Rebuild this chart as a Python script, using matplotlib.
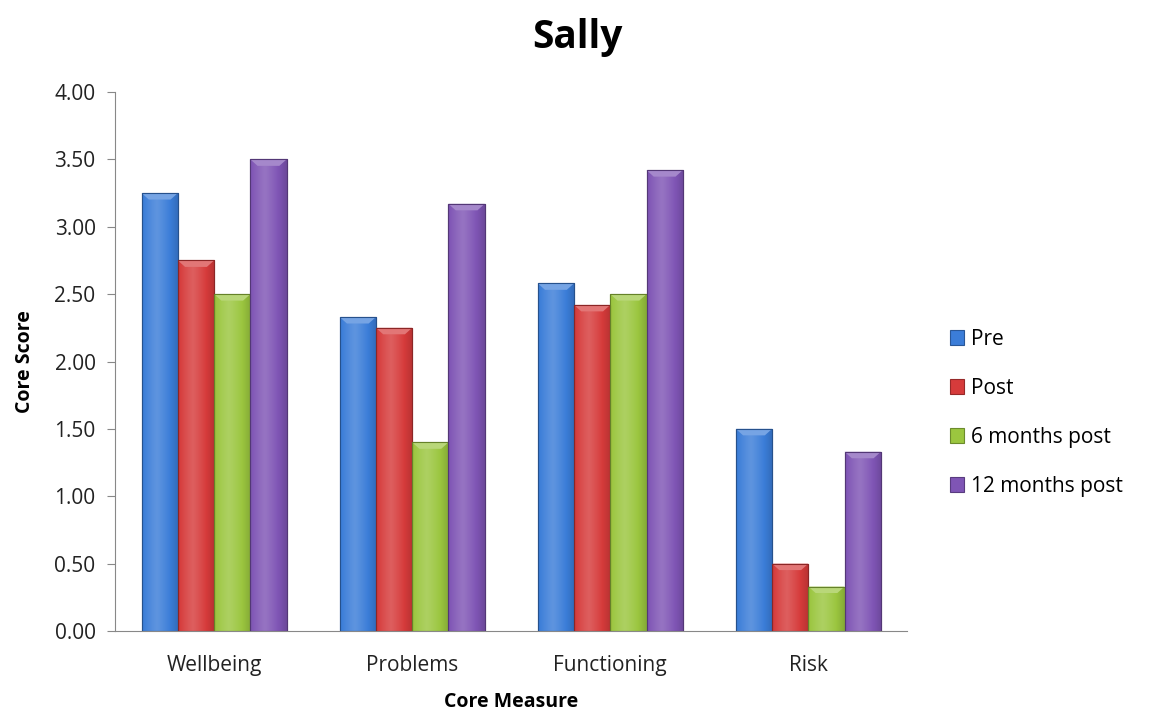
import numpy as np
import matplotlib
matplotlib.use("Agg")
import matplotlib.pyplot as plt
from matplotlib.patches import Polygon
from matplotlib.colors import to_rgb

# data
measures = ["Wellbeing", "Problems", "Functioning", "Risk"]
series = ["Pre", "Post", "6 months post", "12 months post"]
pre = [3.25, 2.33, 2.58, 1.50]
post = [2.75, 2.25, 2.42, 0.50]
six_months = [2.50, 1.40, 2.50, 0.33]
twelve_months = [3.50, 3.17, 3.42, 1.33]
colors = ["#3b7dd8", "#d63b3b", "#9bc63f", "#7f55b5"]

plt.rcParams['font.family'] = ['Open Sans', 'DejaVu Sans']

fig = plt.figure(figsize=(11.54, 7.2), dpi=100)
ax = fig.add_axes([0.0997, 0.1236, 0.6866, 0.7486])

x = np.arange(len(measures))
width = 0.183
values = [pre, post, six_months, twelve_months]


def shade(c, f):
    r, g, b = to_rgb(c)
    if f > 0:
        return (r + (1 - r) * f, g + (1 - g) * f, b + (1 - b) * f)
    return (r * (1 + f), g * (1 + f), b * (1 + f))


for i, (vals, col) in enumerate(zip(values, colors)):
    bars = ax.bar(x + (i - 1.5) * width, vals, width, color=col,
                  edgecolor=shade(col, -0.3), linewidth=0.8, label=series[i], zorder=2)
    # bevel look: horizontal gradient + lighter top cap
    grad = np.linspace(0, 1, 64)
    prof = 0.18 - 0.6 * np.abs(grad - 0.4) ** 1.2
    img = np.array([[shade(col, p) for p in prof]])
    for b in bars:
        x0, w, h = b.get_x(), b.get_width(), b.get_height()
        im = ax.imshow(img, extent=[x0, x0 + w, 0, h], aspect='auto', zorder=2.5,
                       interpolation='bicubic')
        im.set_clip_path(b)
        d = 0.012 * 4
        cap = Polygon([[x0, h], [x0 + w, h], [x0 + w - w * 0.2, h - d],
                       [x0 + w * 0.2, h - d]], closed=True,
                      facecolor=shade(col, 0.3), edgecolor='none', zorder=3)
        ax.add_patch(cap)
        ax.add_patch(plt.Rectangle((x0, 0), w, h, fill=False,
                                   edgecolor=shade(col, -0.35), linewidth=0.8, zorder=3.5))

ax.set_xlim(-0.5, len(measures) - 0.5)
ax.set_ylim(0, 4)
ax.set_yticks(np.arange(0, 4.01, 0.5))
ax.set_yticklabels(["%.2f" % v for v in np.arange(0, 4.01, 0.5)], fontsize=15, color='#222222')
ax.set_xticks(x)
ax.set_xticklabels(measures, fontsize=15, color='#222222')
ax.tick_params(axis='x', length=0, pad=17)
ax.tick_params(axis='y', length=6, color='#888888', pad=8)
for s in ['top', 'right']:
    ax.spines[s].set_visible(False)
ax.spines['left'].set_color('#888888')
ax.spines['bottom'].set_color('#888888')

ax.set_ylabel("Core Score", fontsize=14, fontweight='bold', labelpad=14)
ax.set_xlabel("Core Measure", fontsize=14, fontweight='bold', labelpad=12)
fig.suptitle("Sally", fontsize=28, fontweight='bold', x=0.5, y=0.975)

leg = ax.legend(loc='center left', bbox_to_anchor=(1.03, 0.405), frameon=False,
                fontsize=15, handlelength=0.7, handleheight=0.7, handletextpad=0.3,
                labelspacing=1.35)

fig.savefig("out.png", dpi=100)
